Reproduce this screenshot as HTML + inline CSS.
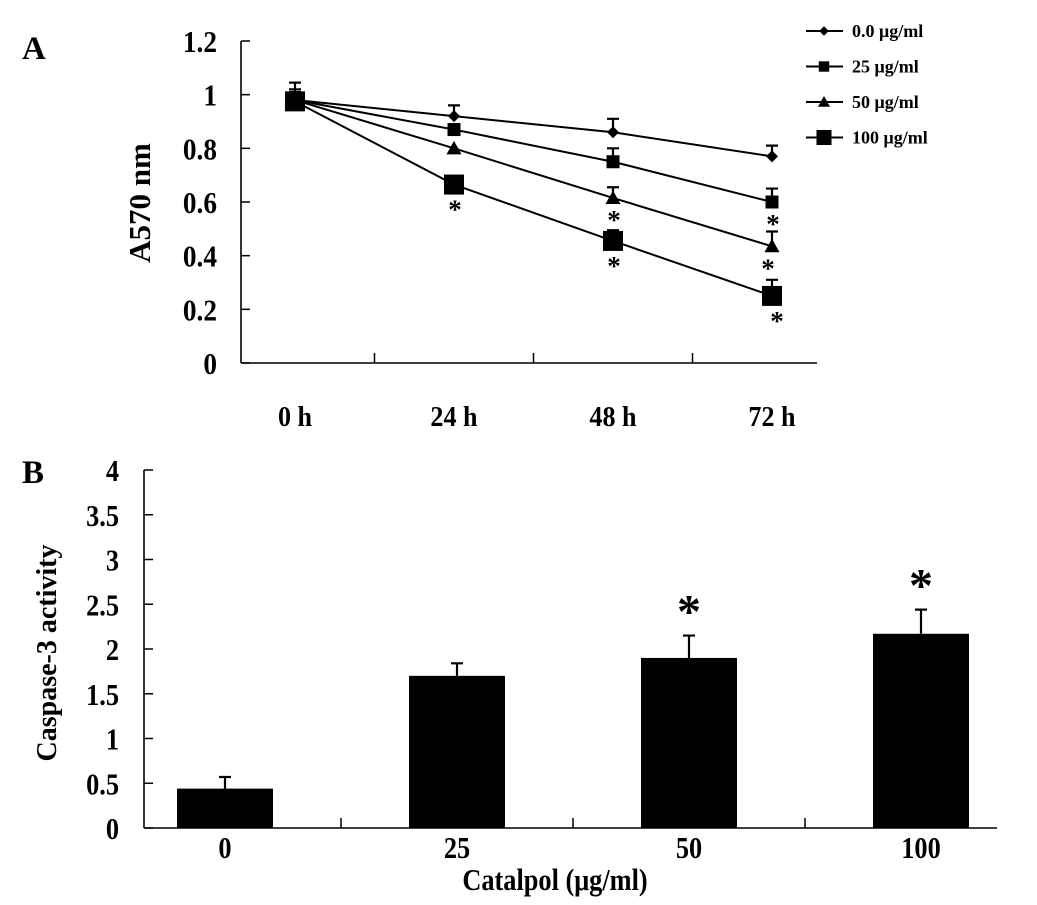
<!DOCTYPE html>
<html><head><meta charset="utf-8">
<style>
html,body{margin:0;padding:0;background:#fff;}
svg{display:block;}
text{font-family:"Liberation Serif","DejaVu Serif",serif;font-weight:bold;fill:#000;}
</style></head>
<body>
<svg id="fig" width="1037" height="905" viewBox="0 0 1037 905" xmlns="http://www.w3.org/2000/svg"></svg>
<script>
// ---- Chart A data ----
const timeLabels = ["0 h","24 h","48 h","72 h"];
const seriesNames = ["0.0 μg/ml","25 μg/ml","50 μg/ml","100 μg/ml"];
const s0 = [0.98, 0.92, 0.86, 0.77];
const s25 = [0.98, 0.87, 0.75, 0.60];
const s50 = [0.98, 0.80, 0.615, 0.435];
const s100 = [0.975, 0.665, 0.455, 0.25];
const e0 = [0.065, 0.04, 0.05, 0.04];
const e25 = [0.04, 0.0, 0.05, 0.05];
const e50 = [0.03, 0.0, 0.04, 0.055];
const e100 = [0.03, 0.0, 0.04, 0.06];
const starsA = [[3,1],[3,2],[2,2],[1,3],[2,3],[3,3]]; // [series, time] marked with *
const yTicksA = [0,0.2,0.4,0.6,0.8,1,1.2];
const yTickLabelsA = ["0","0.2","0.4","0.6","0.8","1","1.2"];
// ---- Chart B data ----
const doseLabels = ["0","25","50","100"];
const caspase = [0.44, 1.70, 1.90, 2.17];
const caspaseErr = [0.13, 0.14, 0.25, 0.27];
const starsB = [false,false,true,true];
const yTicksB = [0,0.5,1,1.5,2,2.5,3,3.5,4];
const yTickLabelsB = ["0","0.5","1","1.5","2","2.5","3","3.5","4"];

const svg = document.getElementById('fig');
const NS = "http://www.w3.org/2000/svg";
function mk(tag, attrs, parent){
  const e = document.createElementNS(NS, tag);
  for (const k in attrs) e.setAttribute(k, attrs[k]);
  (parent||svg).appendChild(e);
  return e;
}
function txt(s, x, y, size, anchor, sx, parent, rot){
  const tr = `translate(${x},${y})` + (rot?` rotate(${rot})`:'') + ` scale(${sx},1)`;
  const e = mk('text',{x:0,y:0,'font-size':size,'text-anchor':anchor,transform:tr},parent);
  e.textContent = s;
  return e;
}

// ---------- Chart A ----------
const ax0 = 241, ax1 = 817, ay0 = 363, ay1 = 41;
const yA = v => ay0 - (v/1.2)*(ay0-ay1);
const xA = i => 295 + i*159;
const gA = mk('g', {});



let t = txt("A",22,59,33,'start',1,gA);
 

let l = mk('line',{x1:ax0,y1:ay1,x2:ax0,y2:ay0,stroke:'#000','stroke-width':1.6},gA);
 
l = mk('line',{x1:ax0,y1:ay0,x2:ax1,y2:ay0,stroke:'#000','stroke-width':1.6},gA);
 

yTicksA.forEach((v,i)=>{
  const tk = mk('line',{x1:ax0,y1:yA(v),x2:ax0+9,y2:yA(v),stroke:'#000','stroke-width':1.5},gA);
   
  const tx = txt(yTickLabelsA[i],217,yA(v)+11,31,'end',0.88,gA);
   
});
for (let i=0;i<timeLabels.length-1;i++){
  const xm = (xA(i)+xA(i+1))/2;
  const tk = mk('line',{x1:xm,y1:ay0,x2:xm,y2:ay0-10,stroke:'#000','stroke-width':1.5},gA);
   
}
timeLabels.forEach((s,i)=>{
  const tx = txt(s,xA(i),426,29,'middle',0.9,gA);
   
});
t = txt("A570 nm",150,203,31,'middle',1,gA,-90);
 

const allS = [s0,s25,s50,s100], allE = [e0,e25,e50,e100];
function marker(k, cx, cy, parent, scale){
  scale = scale||1;
  let m;
  if (k===0){ const r=6*scale; m = mk('polygon',{points:`${cx},${cy-r} ${cx+r},${cy} ${cx},${cy+r} ${cx-r},${cy}`,fill:'#000'},parent); }
  else if (k===1){ const h=6.5*scale; m = mk('rect',{x:cx-h,y:cy-h,width:2*h,height:2*h,fill:'#000'},parent); }
  else if (k===2){ const r=7.5*scale; m = mk('polygon',{points:`${cx},${cy-r} ${cx+r},${cy+r*0.8} ${cx-r},${cy+r*0.8}`,fill:'#000'},parent); }
  else { const h=10*scale; m = mk('rect',{x:cx-h,y:cy-h,width:2*h,height:2*h,fill:'#000'},parent); }
  return m;
}
allS.forEach((ser,k)=>{
  const g = mk('g',{},gA);
  
  
  const pts = ser.map((v,i)=>xA(i)+','+yA(v)).join(' ');
  const pl = mk('polyline',{points:pts,fill:'none',stroke:'#000','stroke-width':2},g);
   
  ser.forEach((v,i)=>{
    const e = allE[k][i];
    if (e>0){
      const eb = mk('path',{d:`M${xA(i)},${yA(v)} V${yA(v+e)} M${xA(i)-6},${yA(v+e)} H${xA(i)+6}`,stroke:'#000','stroke-width':2.2,fill:'none'},g);
       
    }
    const m = marker(k, xA(i), yA(v), g);
     
  });
});
starsA.forEach(([k,i])=>{
  const v = allS[k][i];
  const off = k===3 ? 24 : 21;
  const dx = (i===3 && k===3) ? 5 : (i===3 && k===2 ? -4 : 1);
  const tx = mk('text',{x:xA(i)+dx,y:yA(v)+off+10,'font-size':27,'text-anchor':'middle'},gA);
  tx.textContent = "*";
   
});
// legend
const gL = mk('g',{},gA);
 
seriesNames.forEach((s,k)=>{
  const y = 31 + k*35.5;
  const g = mk('g',{},gL);
   
  mk('line',{x1:806,y1:y,x2:843,y2:y,stroke:'#000','stroke-width':2},g);
  marker(k, 824, y, g, k===3?0.75:0.8);
  const tx = mk('text',{x:852,y:y+6,'font-size':18},g);
  tx.textContent = s;
});

// ---------- Chart B ----------
const bx0 = 144, bx1 = 997, by0 = 828, by1 = 470;
const yB = v => by0 - (v/4)*(by0-by1);
const xB = i => 225 + i*232;
const barW = 96;
const gB = mk('g',{});
 
t = txt("B",22,483,33,'start',1,gB);
 

caspase.forEach((v,i)=>{
  const r = mk('rect',{x:xB(i)-barW/2,y:yB(v),width:barW,height:by0-yB(v),fill:'#000'},gB);
   
  const e = caspaseErr[i];
  const eb = mk('path',{d:`M${xB(i)},${yB(v)} V${yB(v+e)} M${xB(i)-6},${yB(v+e)} H${xB(i)+6}`,stroke:'#000','stroke-width':2.2,fill:'none'},gB);
   
  if (starsB[i]){
    const tx = mk('text',{x:xB(i),y:yB(v+e)-8,'font-size':48,'text-anchor':'middle'},gB);
    tx.textContent="*";
     
  }
});
l = mk('line',{x1:bx0,y1:by1,x2:bx0,y2:by0,stroke:'#000','stroke-width':1.6},gB);
 
l = mk('line',{x1:bx0,y1:by0,x2:bx1,y2:by0,stroke:'#000','stroke-width':1.6},gB);
 
yTicksB.forEach((v,i)=>{
  const tk = mk('line',{x1:bx0,y1:yB(v),x2:bx0+9,y2:yB(v),stroke:'#000','stroke-width':1.5},gB);
   
  const tx = txt(yTickLabelsB[i],119,yB(v)+11,31,'end',0.85,gB);
   
});
for (let i=0;i<doseLabels.length-1;i++){
  const xm = (xB(i)+xB(i+1))/2;
  const tk = mk('line',{x1:xm,y1:by0,x2:xm,y2:by0-10,stroke:'#000','stroke-width':1.5},gB);
   
}
doseLabels.forEach((s,i)=>{
  const tx = txt(s,xB(i),858,31,'middle',0.85,gB);
   
});
t = txt("Catalpol (μg/ml)",555,890,31,'middle',0.85,gB);
 
t = txt("Caspase-3 activity",56,653,28,'middle',1,gB,-90);
 
</script>
</body></html>
